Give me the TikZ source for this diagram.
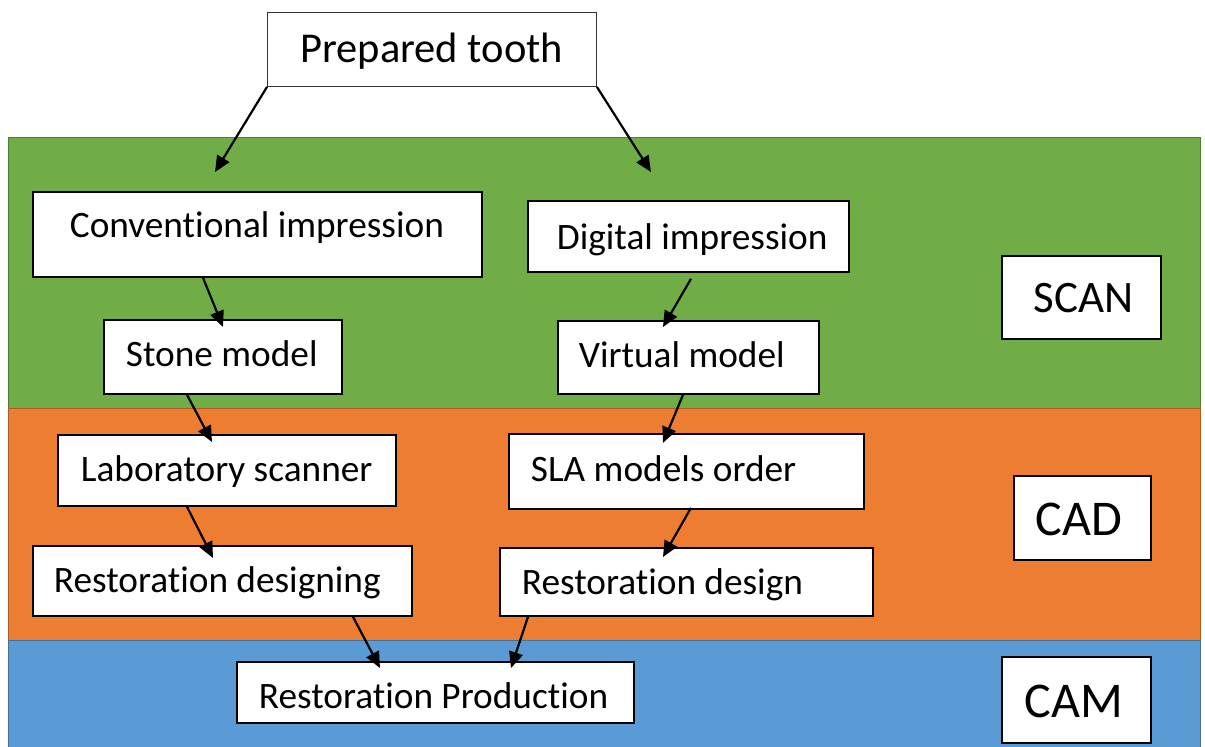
\documentclass[tikz,border=0pt]{standalone}
\usepackage{fontspec}
\setmainfont{Carlito}[Ligatures=NoCommon]
\usetikzlibrary{arrows.meta}

\definecolor{scangreen}{HTML}{70AD47}
\definecolor{scanedge}{HTML}{507E32}
\definecolor{cadorange}{HTML}{ED7D31}
\definecolor{cadedge}{HTML}{AE5A21}
\definecolor{camblue}{HTML}{5B9BD5}
\definecolor{camedge}{HTML}{41719C}

% box from its corners: [opts]{x1}{y1}{x2}{y2}{baseline}{text x}{name}{text}
\newcommand{\flowbox}[9][]{%
  \pgfmathsetmacro{\boxw}{#4-#2}%
  \pgfmathsetmacro{\boxh}{#6-#3}%
  \pgfmathsetmacro{\boxd}{#5-#6}%
  \pgfmathsetmacro{\boxl}{#7-#2}%
  \node[box,#1,text height=\boxh pt,text depth=\boxd pt] (#8) at (#2,#3)
    {\makebox[\boxw pt][l]{\hspace*{\boxl pt}#9}};}

\begin{document}
\begin{tikzpicture}[x=1pt,y=-1pt,
  box/.style={draw,line width=1.8pt,fill=white,anchor=north west,inner sep=0pt,
    font=\fontsize{37.3}{44}\selectfont},
  stage/.style={box,font=\fontsize{50}{56}\selectfont},
  link/.style={line width=2.2pt,-{Triangle[length=16pt,width=14pt]}}]
\useasboundingbox (0,0) rectangle (1205,747);
% the three stages
\draw[scanedge,fill=scangreen] (8,137) rectangle (1200,408);
\draw[cadedge,fill=cadorange] (8,408) rectangle (1200,640);
\draw[camedge,fill=camblue] (8,640) rectangle (1200,752);

\flowbox[line width=0.9pt,draw=black!80,font=\fontsize{42.5}{48}\selectfont]
  {267}{12}{596}{86}{62}{300}{tooth}{Prepared tooth}
\flowbox{32}{191}{481}{276}{237}{69}{conv}{Conventional impression}
\flowbox{527}{200}{848}{271}{249}{556}{digital}{Digital impression}
\flowbox{103}{319}{341}{393}{366}{125}{stone}{Stone model}
\flowbox{557}{320}{818}{393}{367}{578}{virtual}{Virtual model}
\flowbox{57}{434}{395}{505}{481}{80}{lab}{Laboratory scanner}
\flowbox{508}{433}{863}{508}{481}{530}{sla}{SLA models order}
\flowbox{32}{545}{411}{615}{592}{53}{rdesigning}{Restoration designing}
\flowbox{499}{547}{872}{615}{594}{521}{rdesign}{Restoration design}
\flowbox{236}{661}{633}{722}{708}{258}{prod}{Restoration Production}

\flowbox[stage,font=\fontsize{45}{50}\selectfont]
  {1001}{255}{1160}{338}{312}{1033}{scan}{SCAN}
\flowbox[stage]{1013}{475}{1150}{559}{535}{1035}{cad}{CAD}
\flowbox[stage]{1001}{656}{1150}{742}{717}{1024}{cam}{CAM}

\coordinate (convin) at (215,172);
\coordinate (digitalin) at (651,172);

\draw[link] (tooth.south west) -- (convin);
\draw[link] (tooth.south east) -- (digitalin);
\draw[link] ([xshift=171pt]conv.south west) -- ([xshift=120pt,yshift=-8pt]stone.north west);
\draw[link] ([xshift=164pt,yshift=-6pt]digital.south west) -- ([xshift=106pt,yshift=-7pt]virtual.north west);
\draw[link] ([xshift=84pt]stone.south west) -- ([xshift=155pt,yshift=-8pt]lab.north west);
\draw[link] ([xshift=126pt]virtual.south west) -- ([xshift=155pt,yshift=-10pt]sla.north west);
\draw[link] ([xshift=130pt]lab.south west) -- ([xshift=181pt,yshift=-13pt]rdesigning.north west);
\draw[link] ([xshift=183pt,yshift=2pt]sla.south west) -- ([xshift=164pt,yshift=-10pt]rdesign.north west);
\draw[link] ([xshift=321pt]rdesigning.south west) -- ([xshift=144pt,yshift=-7pt]prod.north west);
\draw[link] ([xshift=29pt]rdesign.south west) -- ([xshift=275pt,yshift=-7pt]prod.north west);
\end{tikzpicture}
\end{document}
